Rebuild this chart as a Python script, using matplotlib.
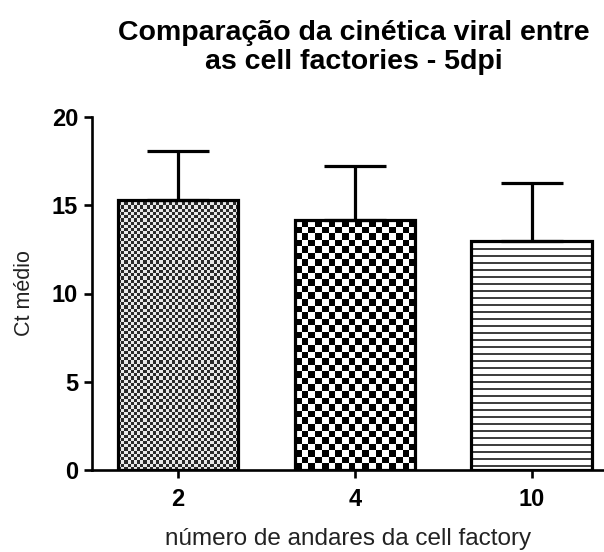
import numpy as np
import matplotlib
matplotlib.use("Agg")
import matplotlib.pyplot as plt
from matplotlib.colors import ListedColormap

plt.rcParams['font.family'] = ['Liberation Sans', 'DejaVu Sans']

categories = ['2', '4', '10']
means = [15.3, 14.15, 12.97]
sd_up = [2.77, 3.07, 3.29]

title = "Comparação da cinética viral entre\nas cell factories - 5dpi"
xlabel = "número de andares da cell factory"
ylabel = "Ct médio"
yticks = [0, 5, 10, 15, 20]

W, H, DPI = 604, 552, 100
fig = plt.figure(figsize=(W / DPI, H / DPI), dpi=DPI)
ax = fig.add_axes([92 / W, 1 - 470 / H, (604 - 92) / W, (470 - 117) / H])

x = np.arange(len(categories))
bars = ax.bar(x, means, width=0.68, facecolor='none', edgecolor='black',
              linewidth=2.3, zorder=3)
ax.errorbar(x, means, yerr=[np.zeros(len(means)), sd_up], fmt='none',
            ecolor='black', elinewidth=2.3, capsize=22.5, capthick=2.3, zorder=2)

ax.set_xlim(-0.487, 2.41)
ax.set_ylim(0, 20)
ax.set_yticks(yticks)
ax.set_xticks(x)
ax.set_xticklabels(categories)

# pattern fills
fig.canvas.draw()
patterns = [('checker', 3.2, '#2a2a2a', '#e8e8e8'),
            ('checker', 6.5, '#000000', '#ffffff'),
            ('stripes', 7.0, '#404040', '#ffffff')]
for rect, (kind, cell, dark, light) in zip(bars, patterns):
    bb = rect.get_bbox()
    p0 = ax.transData.transform((bb.x0, bb.y0))
    p1 = ax.transData.transform((bb.x1, bb.y1))
    wpx, hpx = abs(p1[0] - p0[0]), abs(p1[1] - p0[1])
    if kind == 'checker':
        nx = max(1, int(round(wpx / cell)))
        ny = max(1, int(round(hpx / cell)))
        arr = (np.add.outer(np.arange(ny), np.arange(nx)) % 2).astype(float)
    else:
        ny = int(round(hpx))
        rows = ((np.arange(ny) % cell) < 1.8).astype(float)
        arr = np.repeat(rows[:, None], 4, axis=1)
    cmap = ListedColormap([light, dark])
    im = ax.imshow(arr, extent=(bb.x0, bb.x1, bb.y0, bb.y1), cmap=cmap,
                   vmin=0, vmax=1, interpolation='nearest', aspect='auto',
                   origin='upper', zorder=1)
    im.set_clip_path(rect)

ax.set_xlim(-0.487, 2.41)
ax.set_ylim(0, 20)

for s in ['top', 'right']:
    ax.spines[s].set_visible(False)
for s in ['left', 'bottom']:
    ax.spines[s].set_linewidth(1.9)
ax.tick_params(axis='both', width=1.9, length=6, labelsize=17)
ax.tick_params(axis='x', pad=7)
ax.tick_params(axis='y', pad=4)
for lbl in ax.get_xticklabels() + ax.get_yticklabels():
    lbl.set_fontweight('bold')

ax.set_xlabel(xlabel, fontsize=17.5, labelpad=12, color='#222222')
ax.set_ylabel(ylabel, fontsize=15.5, labelpad=12, color='#222222')

fig.text(354 / W, 1 - 48 / H, title, ha='center', va='center',
         fontsize=20.5, fontweight='bold', linespacing=1.15)

fig.savefig('out.png', dpi=DPI)
